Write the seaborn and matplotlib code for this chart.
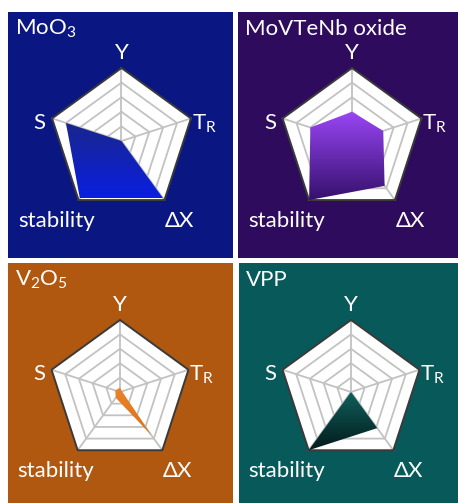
import numpy as np
import pandas as pd
import matplotlib
matplotlib.use("Agg")
import matplotlib.pyplot as plt
import seaborn as sns
from matplotlib.patches import Polygon
from matplotlib.colors import LinearSegmentedColormap

# ---------------- data ----------------
axis_labels = ["Y", "T$_\\mathregular{R}$", "ΔX", "stability", "S"]
catalysts = ["MoO$_\\mathregular{3}$", "MoVTeNb oxide",
             "V$_\\mathregular{2}$O$_\\mathregular{5}$", "VPP"]
moo3_values = [0.0, 0.0, 0.97, 0.97, 0.80]
movtenb_values = [0.40, 0.45, 0.76, 1.00, 0.60]
v2o5_values = [0.06, 0.03, 0.74, 0.10, 0.07]
vpp_values = [0.05, 0.0, 0.62, 1.00, 0.0]
grid_levels = [0.2, 0.4, 0.6, 0.8, 1.0]

# ---------------- style ----------------
sns.set_theme(style="white")
plt.rcParams["font.family"] = ["Lato", "DejaVu Sans"]
plt.rcParams["mathtext.default"] = "regular"

W, H = 458, 503
fig = plt.figure(figsize=(W / 100, H / 100), dpi=100, facecolor="white")

panels = [
    dict(rect=(8, 12, 233, 258), c=(121.5, 141), R=73, bg="#0a1682",
         grad=("#1a268a", "#0a1fe2"), values=moo3_values),
    dict(rect=(238, 12, 458, 258), c=(352, 141), R=73, bg="#2e0b5c",
         grad=("#9a46f6", "#35106c"), values=movtenb_values),
    dict(rect=(8, 263, 233, 503), c=(120, 392), R=72, bg="#b0580f",
         grad=("#e8842a", "#dc721a"), values=v2o5_values),
    dict(rect=(239, 263, 458, 503), c=(351, 392), R=72, bg="#07595a",
         grad=("#10655f", "#041a1c"), values=vpp_values),
]

n = len(axis_labels)
angles = np.pi / 2 - 2 * np.pi * np.arange(n) / n  # clockwise from top
label_pos = [(0.0, 1.12, "center"), (0.96, 0.16, "left"), (0.80, -1.18, "center"),
             (-0.89, -1.18, "center"), (-1.04, 0.16, "right")]
FS = 16

for name, p in zip(catalysts, panels):
    x0, y0, x1, y1 = p["rect"]
    cx, cy = p["c"]
    R = p["R"]
    ax = fig.add_axes([x0 / W, 1 - y1 / H, (x1 - x0) / W, (y1 - y0) / H])
    ax.set_facecolor(p["bg"])
    ax.set_xticks([]); ax.set_yticks([])
    for s in ax.spines.values():
        s.set_visible(False)

    ux, uy = np.cos(angles), np.sin(angles)

    # white pentagon background
    ax.add_patch(Polygon(np.column_stack([ux, uy]), closed=True,
                         facecolor="white", edgecolor="none", zorder=1))

    # inner rings via seaborn
    rows = []
    for lvl in grid_levels[:-1]:
        for k in list(range(n)) + [0]:
            rows.append(dict(x=lvl * ux[k], y=lvl * uy[k], ring=lvl))
    rings = pd.DataFrame(rows)
    sns.lineplot(data=rings, x="x", y="y", units="ring", estimator=None,
                 sort=False, color="#c2c2c2", lw=1.3, ax=ax, zorder=2)
    # spokes
    spk = []
    for k in range(n):
        spk.append(dict(x=0.0, y=0.0, sp=k))
        spk.append(dict(x=ux[k], y=uy[k], sp=k))
    sns.lineplot(data=pd.DataFrame(spk), x="x", y="y", units="sp", estimator=None,
                 sort=False, color="#c2c2c2", lw=1.3, ax=ax, zorder=2)
    # outer ring
    outer = pd.DataFrame(dict(x=np.append(ux, ux[0]) * grid_levels[-1],
                              y=np.append(uy, uy[0]) * grid_levels[-1]))
    sns.lineplot(data=outer, x="x", y="y", estimator=None, sort=False,
                 color="#3a3a3a", lw=1.4, ax=ax, zorder=3)

    # data polygon with vertical gradient
    v = np.asarray(p["values"])
    px, py = v * ux, v * uy
    poly = Polygon(np.column_stack([px, py]), closed=True, facecolor="none",
                   edgecolor="none", zorder=4)
    ax.add_patch(poly)
    cmap = LinearSegmentedColormap.from_list("g", [p["grad"][1], p["grad"][0]])
    grad = np.linspace(0, 1, 256).reshape(-1, 1)
    im = ax.imshow(grad, extent=[px.min(), px.max() + 1e-3, py.min(), py.max() + 1e-3],
                   origin="lower", cmap=cmap, aspect="auto", zorder=4,
                   interpolation="bilinear")
    im.set_clip_path(poly)

    # axis labels
    for lab, (lx, ly, ha) in zip(axis_labels, label_pos):
        ax.text(lx, ly, lab, color="white", fontsize=FS, ha=ha, va="baseline",
                zorder=6)

    # panel title
    ax.text(7 / (x1 - x0), 1 - 23 / (y1 - y0), name, transform=ax.transAxes,
            color="white", fontsize=FS, ha="left", va="baseline")

    ax.set_xlim((x0 - cx) / R, (x1 - cx) / R)
    ax.set_ylim((cy - y1) / R, (cy - y0) / R)

fig.savefig("out.png", dpi=100, facecolor="white")
